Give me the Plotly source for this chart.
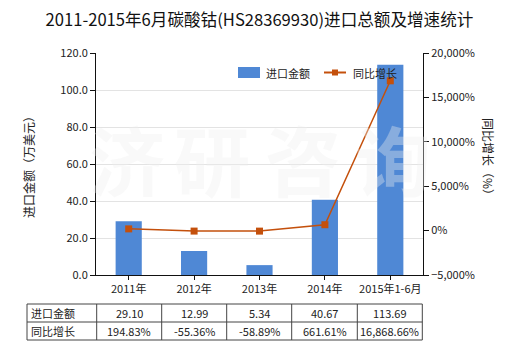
import plotly.graph_objects as go

# Chart data
categories = ["2011年", "2012年", "2013年", "2014年", "2015年1-6月"]
import_value = [29.10, 12.99, 5.34, 40.67, 113.69]          # 万美元
yoy_growth = [194.83, -55.36, -58.89, 661.61, 16868.66]     # %
value_labels = ["29.10", "12.99", "5.34", "40.67", "113.69"]
growth_labels = ["194.83%", "-55.36%", "-58.89%", "661.61%", "16,868.66%"]
row_names = ["进口金额", "同比增长"]

W, H = 520, 350
L, R, T, B = 96, 97, 53, 75
PW, PH = W - L - R, H - T - B

FONT = "Noto Sans CJK SC, Microsoft YaHei, sans-serif"
BAR = "#4F88D5"
LINE = "#C4500C"
TXT = "#222222"


def px_x(x):
    return (x - L) / PW


def px_y(y):
    return (H - B - y) / PH


fig = go.Figure()
fig.add_trace(go.Bar(
    x=categories, y=import_value, name="进口金额",
    marker=dict(color=BAR, line=dict(width=0)), width=0.4,
    yaxis="y", hoverinfo="skip",
))
fig.add_trace(go.Scatter(
    x=categories, y=yoy_growth, name="同比增长", mode="lines+markers",
    line=dict(color=LINE, width=1.5),
    marker=dict(symbol="square", size=7, color=LINE),
    yaxis="y2", hoverinfo="skip",
))

shapes = []
annotations = []

# Watermark
for ch, cx in zip("济研咨询", [127, 212, 303, 393]):
    annotations.append(dict(
        text=ch, x=px_x(cx), y=px_y(158), xref="paper", yref="paper",
        showarrow=False, xanchor="center", yanchor="middle",
        font=dict(family=FONT, size=76, color="rgba(238,238,238,0.36)", weight="bold"),
    ))

# Legend
shapes.append(dict(type="rect", xref="paper", yref="paper",
                   x0=px_x(238), x1=px_x(260), y0=px_y(78), y1=px_y(67),
                   fillcolor=BAR, line=dict(width=0)))
annotations.append(dict(text="进口金额", x=px_x(264), y=px_y(72.5), xref="paper", yref="paper",
                        showarrow=False, xanchor="left", yanchor="middle",
                        font=dict(family=FONT, size=11, color=TXT)))
shapes.append(dict(type="line", xref="paper", yref="paper",
                   x0=px_x(324), x1=px_x(346), y0=px_y(72.5), y1=px_y(72.5),
                   line=dict(color=LINE, width=2)))
shapes.append(dict(type="rect", xref="paper", yref="paper",
                   x0=px_x(332), x1=px_x(338), y0=px_y(75.5), y1=px_y(69.5),
                   fillcolor=LINE, line=dict(width=0)))
annotations.append(dict(text="同比增长", x=px_x(351), y=px_y(72.5), xref="paper", yref="paper",
                        showarrow=False, xanchor="left", yanchor="middle",
                        font=dict(family=FONT, size=11, color=TXT)))

# Data table below the chart
col_edges = [27, 96.7, 161.7, 226.7, 291.7, 357.3, 422.3]
row_edges = [304, 322, 340]
grid = dict(color="#444444", width=1)
for xe in col_edges:
    shapes.append(dict(type="line", xref="paper", yref="paper",
                       x0=px_x(xe), x1=px_x(xe), y0=px_y(row_edges[0]), y1=px_y(row_edges[-1]),
                       line=grid))
for ye in row_edges:
    shapes.append(dict(type="line", xref="paper", yref="paper",
                       x0=px_x(col_edges[0]), x1=px_x(col_edges[-1]), y0=px_y(ye), y1=px_y(ye),
                       line=grid))
for r, (name, labels) in enumerate(zip(row_names, [value_labels, growth_labels])):
    cy = (row_edges[r] + row_edges[r + 1]) / 2
    annotations.append(dict(text=name, x=px_x(col_edges[0] + 2), y=px_y(cy), xref="paper", yref="paper",
                            showarrow=False, xanchor="left", yanchor="middle",
                            font=dict(family=FONT, size=11, color=TXT)))
    for c, lab in enumerate(labels):
        cx = (col_edges[c + 1] + col_edges[c + 2]) / 2
        annotations.append(dict(text=lab, x=px_x(cx), y=px_y(cy), xref="paper", yref="paper",
                                showarrow=False, xanchor="center", yanchor="middle",
                                font=dict(family=FONT, size=11, color=TXT)))

# Axis titles
annotations.append(dict(text="进口金额（万美元）", x=px_x(28), y=px_y(164), xref="paper", yref="paper",
                        showarrow=False, textangle=-90, xanchor="center", yanchor="middle",
                        font=dict(family=FONT, size=12, color=TXT)))
annotations.append(dict(text="同比增长（%）", x=px_x(489), y=px_y(160), xref="paper", yref="paper",
                        showarrow=False, textangle=90, xanchor="center", yanchor="middle",
                        font=dict(family=FONT, size=12, color=TXT)))

fig.update_layout(
    width=W, height=H,
    margin=dict(l=L, r=R, t=T, b=B, pad=0),
    paper_bgcolor="white", plot_bgcolor="white",
    showlegend=False,
    title=dict(text="2011-2015年6月碳酸钴(HS28369930)进口总额及增速统计",
               x=0.5, xref="paper", xanchor="center", y=1 - 20 / H, yanchor="middle",
               font=dict(family=FONT, size=16.6, color="#111111")),
    xaxis=dict(
        type="category", showgrid=False, showline=True, linecolor="#111111", linewidth=1,
        ticks="outside", ticklen=4, tickcolor="#111111",
        tickfont=dict(family=FONT, size=11, color=TXT),
        range=[-0.5, 4.5],
    ),
    yaxis=dict(
        range=[0, 120], dtick=20, tickformat=".1f",
        showgrid=True, gridcolor="#E3E3E3", gridwidth=1,
        showline=True, linecolor="#111111", linewidth=1,
        ticks="outside", ticklen=5, tickcolor="#111111",
        tickfont=dict(family=FONT, size=11, color=TXT),
        zeroline=False,
    ),
    yaxis2=dict(
        overlaying="y", side="right", range=[-5000, 20000], dtick=5000,
        tickformat=",.0f", ticksuffix="%",
        showgrid=False, zeroline=False,
        showline=True, linecolor="#111111", linewidth=1,
        ticks="outside", ticklen=5, tickcolor="#111111",
        tickfont=dict(family=FONT, size=11, color=TXT),
    ),
    shapes=shapes,
    annotations=annotations,
    bargap=0.6,
)

fig.write_html("out.html")
